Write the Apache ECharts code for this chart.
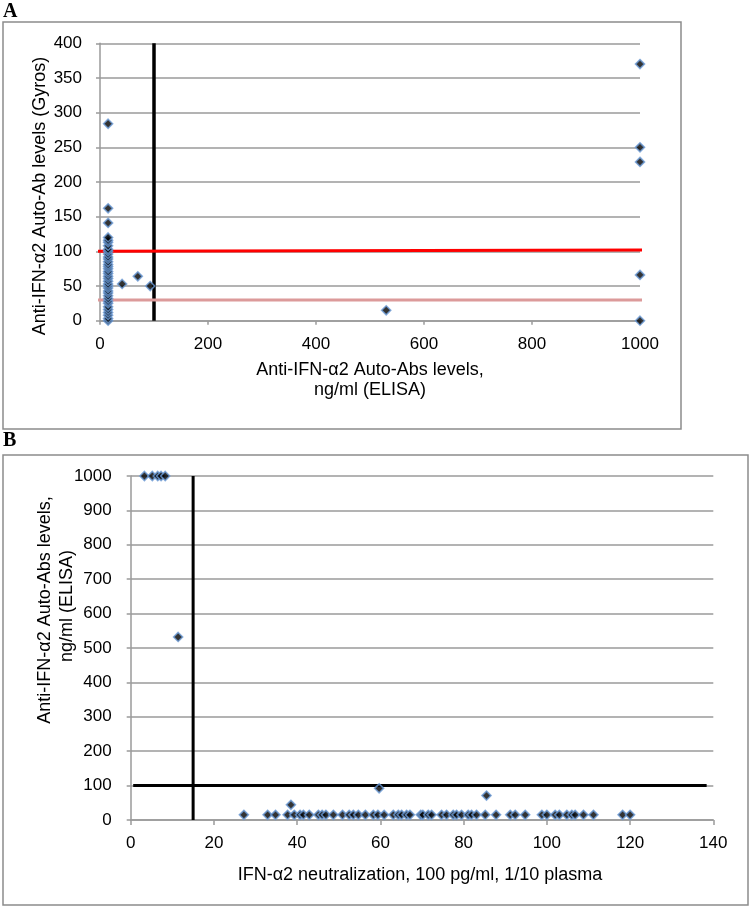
<!DOCTYPE html>
<html>
<head>
<meta charset="utf-8">
<script src="https://cdn.jsdelivr.net/npm/echarts@6/dist/echarts.min.js"></script>
<style>
html,body{margin:0;padding:0;background:#fff;}
#c{width:751px;height:908px;}
</style>
</head>
<body>
<div id="c"></div>
<script>
// ---------- Panel A data: ELISA (x) vs Gyros (y) ----------
const aElisa = [15,15,15,15,15,15,15,15,15,15,15,15,15,15,15,15,15,15,15,15,15,15,15,15,15,15,15,15,15,15,15,15,15,15,15,15,
                41,70,93,530,1000,1000,1000,1000,1000];
const aGyros = [0,3,8,12,16,20,25,28,32,36,40,43,47,50,53,57,61,64,68,71,75,78,81,85,89,92,96,100,103,108,113,116,120,141,162,284,
                53,64,50,15,370,250,229,66,0];
const aXTicks = [0,200,400,600,800,1000];
const aYTicks = [0,50,100,150,200,250,300,350,400];
const aRedLine = [[-5,100],[1030,102]];
const aPinkLine = [[-5,30],[1005,30]];
const aCutoffLine = [[100,0],[100,400]];

// ---------- Panel B data: neutralization (x) vs ELISA (y) ----------
const bNeutral = [3.3,5.2,6.5,7.3,8.3,11.4,38.5,59.7,85.5,
  27.2,32.9,34.8,37.7,39.3,40.7,41.5,42.9,45.1,46,46.9,48.7,50.9,52.5,53.5,54.7,56.4,58.3,59.4,60.9,63.1,64.3,65.1,66.3,67.1,
  69.7,70.2,71.5,72.3,74.7,75.9,77.5,78.3,79.5,81.1,81.9,83.1,85.2,87.8,91.2,92.4,94.8,98.8,100,102,103,104.8,106,106.8,108.8,111.2,
  118.2,120,122];
const bElisa = [1000,1000,1000,1000,1000,532,44,92,71,
  15,15,15,15,15,15,15,15,15,15,15,15,15,15,15,15,15,15,15,15,15,15,15,15,15,
  15,15,15,15,15,15,15,15,15,15,15,15,15,15,15,15,15,15,15,15,15,15,15,15,15,
  15,15,15];
const bXTicks = [0,20,40,60,80,100,120,140];
const bYTicks = [0,100,200,300,400,500,600,700,800,900,1000];
const bVertLine = [[15,0],[15,1000]];
const bHorizLine = [[0.6,100],[138.4,100]];

const FONT = "'Liberation Sans', Arial, sans-serif";
const GRAY = '#9a9a9a';
const zip = (xs, ys) => xs.map((x, i) => [x, ys[i]]);
const plain = v => String(v);

const chart = echarts.init(document.getElementById('c'), null, {renderer: 'canvas'});

const markerStyle = {color: '#000', borderColor: '#6a9ad6', borderWidth: 1.6};

function lineSeries(data, xi, color, width) {
  return {type: 'line', xAxisIndex: xi, yAxisIndex: xi, data: data, symbol: 'none', clip: false,
    lineStyle: {color: color, width: width}, silent: true, animation: false, z: 3};
}
const labelStyle = (m) => ({color: '#000', fontFamily: FONT, fontSize: 17, margin: m, formatter: plain});

const option = {
  animation: false,
  backgroundColor: '#fff',
  grid: [
    {left: 100, right: 111, top: 43.3, bottom: 587.3},
    {left: 130.7, right: 37.7, top: 476, bottom: 88}
  ],
  xAxis: [
    {gridIndex: 0, type: 'value', min: aXTicks[0], max: aXTicks[aXTicks.length-1], interval: aXTicks[1]-aXTicks[0],
      axisLine: {show: true, lineStyle: {color: GRAY, width: 1.5}},
      axisTick: {show: true, length: 4, lineStyle: {color: GRAY, width: 1.5}},
      splitLine: {show: false},
      axisLabel: labelStyle(15)},
    {gridIndex: 1, type: 'value', min: bXTicks[0], max: bXTicks[bXTicks.length-1], interval: bXTicks[1]-bXTicks[0],
      axisLine: {show: true, lineStyle: {color: GRAY, width: 1.5}},
      axisTick: {show: true, length: 5, lineStyle: {color: GRAY, width: 1.5}},
      splitLine: {show: false},
      axisLabel: labelStyle(15)}
  ],
  yAxis: [
    {gridIndex: 0, type: 'value', min: aYTicks[0], max: aYTicks[aYTicks.length-1], interval: aYTicks[1]-aYTicks[0],
      axisLine: {show: true, lineStyle: {color: GRAY, width: 1.5}},
      axisTick: {show: true, length: 4, lineStyle: {color: GRAY, width: 1.5}},
      splitLine: {show: true, lineStyle: {color: GRAY, width: 1.5}},
      axisLabel: labelStyle(18)},
    {gridIndex: 1, type: 'value', min: bYTicks[0], max: bYTicks[bYTicks.length-1], interval: bYTicks[1]-bYTicks[0],
      axisLine: {show: true, lineStyle: {color: GRAY, width: 1.5}},
      axisTick: {show: true, length: 4, lineStyle: {color: GRAY, width: 1.5}},
      splitLine: {show: true, lineStyle: {color: GRAY, width: 1.5}},
      axisLabel: labelStyle(19)}
  ],
  series: [
    lineSeries(aCutoffLine, 0, '#000', 3.5),
    lineSeries(aRedLine, 0, '#ff0000', 3),
    lineSeries(aPinkLine, 0, '#dc9a9a', 3),
    {type: 'scatter', xAxisIndex: 0, yAxisIndex: 0, data: zip(aElisa, aGyros), symbol: 'diamond', symbolSize: 9,
      itemStyle: markerStyle, z: 5},
    lineSeries(bVertLine, 1, '#000', 3),
    lineSeries(bHorizLine, 1, '#000', 3),
    {type: 'scatter', xAxisIndex: 1, yAxisIndex: 1, data: zip(bNeutral, bElisa), symbol: 'diamond', symbolSize: 9,
      itemStyle: markerStyle, z: 5}
  ],
  graphic: [
    {type: 'rect', shape: {x: 3, y: 22, width: 678, height: 407}, style: {fill: 'none', stroke: '#8c8c8c', lineWidth: 1.5}, z: 0},
    {type: 'rect', shape: {x: 3, y: 455, width: 745, height: 450}, style: {fill: 'none', stroke: '#8c8c8c', lineWidth: 1.5}, z: 0},
    {type: 'text', left: 3, top: 2, style: {text: 'A', font: "bold 20px 'Liberation Serif', 'Times New Roman', serif", fill: '#000'}},
    {type: 'text', left: 3, top: 431, style: {text: 'B', font: "bold 20px 'Liberation Serif', 'Times New Roman', serif", fill: '#000'}},
    {type: 'text', x: 40, y: 196, rotation: Math.PI/2,
      style: {text: 'Anti-IFN-\u03b12 Auto-Ab levels (Gyros)', font: "18px " + FONT, fill: '#000', align: 'center', verticalAlign: 'middle'}},
    {type: 'text', x: 370, y: 370,
      style: {text: 'Anti-IFN-\u03b12 Auto-Abs levels,', font: "18px " + FONT, fill: '#000', align: 'center', verticalAlign: 'middle'}},
    {type: 'text', x: 370, y: 390,
      style: {text: 'ng/ml (ELISA)', font: "18px " + FONT, fill: '#000', align: 'center', verticalAlign: 'middle'}},
    {type: 'text', x: 45, y: 610, rotation: Math.PI/2,
      style: {text: 'Anti-IFN-\u03b12 Auto-Abs levels,', font: "18px " + FONT, fill: '#000', align: 'center', verticalAlign: 'middle'}},
    {type: 'text', x: 67, y: 606, rotation: Math.PI/2,
      style: {text: 'ng/ml (ELISA)', font: "18px " + FONT, fill: '#000', align: 'center', verticalAlign: 'middle'}},
    {type: 'text', x: 420, y: 875,
      style: {text: 'IFN-\u03b12 neutralization, 100 pg/ml, 1/10 plasma', font: "18px " + FONT, fill: '#000', align: 'center', verticalAlign: 'middle'}}
  ]
};
chart.setOption(option);
</script>
</body>
</html>
